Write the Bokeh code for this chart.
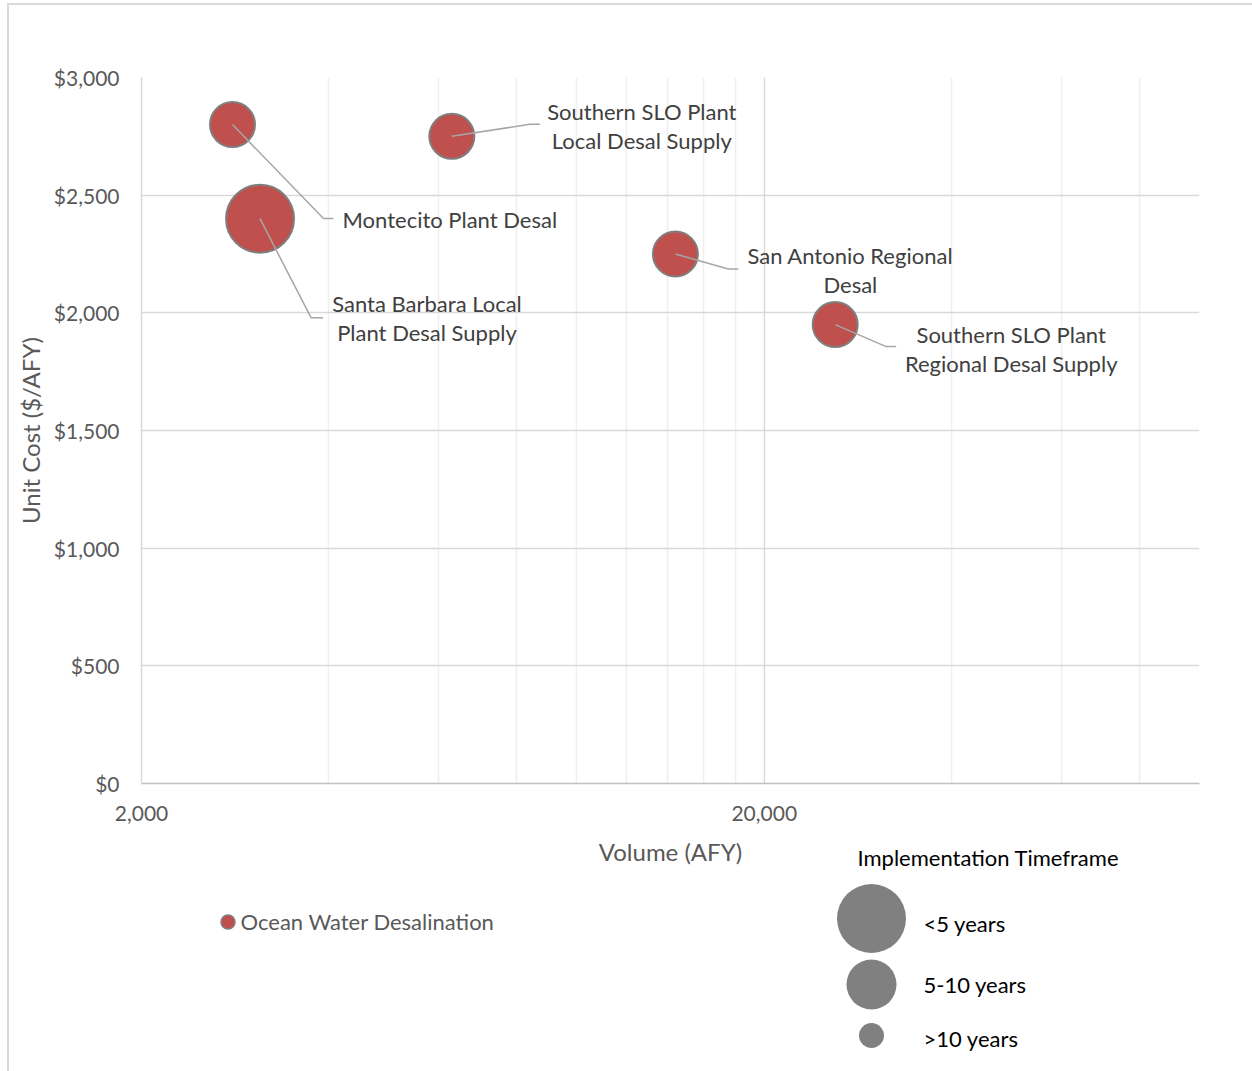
import math

from bokeh.core.properties import value
from bokeh.embed import file_html
from bokeh.layouts import column
from bokeh.models import ColumnDataSource, FixedTicker, NumeralTickFormatter, Range1d
from bokeh.plotting import figure
from bokeh.resources import INLINE

# ---- data -------------------------------------------------------------
projects = [
    "Montecito Plant Desal",
    "Santa Barbara Local\nPlant Desal Supply",
    "Southern SLO Plant\nLocal Desal Supply",
    "San Antonio Regional\nDesal",
    "Southern SLO Plant\nRegional Desal Supply",
]
volume_afy = [2800, 3100, 6300, 14400, 26000]
unit_cost = [2800, 2400, 2750, 2250, 1950]
timeframe = ["5-10 years", "<5 years", "5-10 years", "5-10 years", "5-10 years"]
series_name = "Ocean Water Desalination"
size_legend_title = "Implementation Timeframe"
timeframe_levels = ["<5 years", "5-10 years", ">10 years"]

x_ticks = [2000, 20000]
x_minor_grid = [4000, 6000, 8000, 10000, 12000, 14000, 16000, 18000,
                40000, 60000, 80000, 100000]
y_ticks = [0, 500, 1000, 1500, 2000, 2500, 3000]

# ---- styling ----------------------------------------------------------
FONT = "Lato"
RED = "#C0504D"
GREY_EDGE = "#7f7f7f"
X0, X1 = 2000, 100000
Y0, Y1 = 0, 3000
FRAME_W, FRAME_H = 1058, 706
PX_PER_DECADE = FRAME_W / math.log10(X1 / X0)
PX_PER_DOLLAR = FRAME_H / (Y1 - Y0)
BORDER_L, BORDER_R, BORDER_T = 132, 53, 72

bubble_px = {"<5 years": 68, "5-10 years": 45, ">10 years": 23}

# leader-line and label offsets from each bubble centre (px, +right / +up)
label_layout = [
    dict(elbow=(91, -94), end=(101, -94), text=(110, -95), align="left"),
    dict(elbow=(51, -99), end=(63, -99), text=(167, -99), align="center"),
    dict(elbow=(78, 12), end=(88, 12), text=(190, 10), align="center"),
    dict(elbow=(53, -15), end=(63, -15), text=(175, -16), align="center"),
    dict(elbow=(51, -22), end=(61, -22), text=(176, -24), align="center"),
]


def shift(x, y, dx, dy):
    """Move a data point by a pixel offset on the log-x / linear-y frame."""
    return x * 10 ** (dx / PX_PER_DECADE), y + dy / PX_PER_DOLLAR


# ---- main chart -------------------------------------------------------
p = figure(
    width=1243, height=875,
    x_axis_type="log",
    x_range=Range1d(X0, X1), y_range=Range1d(Y0, Y1),
    toolbar_location=None, output_backend="svg",
    min_border_left=BORDER_L, min_border_right=BORDER_R,
    min_border_top=BORDER_T, min_border_bottom=97,
)
p.outline_line_color = None
p.background_fill_color = "white"
p.border_fill_color = "white"

p.yaxis.ticker = FixedTicker(ticks=y_ticks)
p.yaxis.formatter = NumeralTickFormatter(format="$0,0")
p.xaxis.ticker = FixedTicker(ticks=x_ticks)
p.xaxis.formatter = NumeralTickFormatter(format="0,0")

for ax in (p.xaxis[0], p.yaxis[0]):
    ax.major_tick_line_color = None
    ax.minor_tick_line_color = None
    ax.major_tick_out = 0
    ax.major_label_text_font = FONT
    ax.major_label_text_font_size = "21px"
    ax.major_label_text_color = "#595959"
    ax.axis_label_text_font = FONT
    ax.axis_label_text_font_size = "24px"
    ax.axis_label_text_font_style = "normal"
    ax.axis_label_text_color = "#595959"
    ax.axis_line_width = 1.5

p.yaxis.axis_label = "Unit Cost ($/AFY)"
p.yaxis.axis_line_color = "#d9d9d9"
p.yaxis.major_label_standoff = 22
p.yaxis.axis_label_standoff = 6

p.xaxis.axis_label = "Volume (AFY)"
p.xaxis.axis_line_color = "#bfbfbf"
p.xaxis.major_label_standoff = 22
p.xaxis.axis_label_standoff = 13

p.ygrid.ticker = FixedTicker(ticks=y_ticks)
p.ygrid.grid_line_color = "#d9d9d9"
p.ygrid.grid_line_width = 1.5
p.xgrid.ticker = FixedTicker(ticks=x_ticks, minor_ticks=x_minor_grid)
p.xgrid.grid_line_color = "#d9d9d9"
p.xgrid.grid_line_width = 1.5
p.xgrid.minor_grid_line_color = "#efefef"
p.xgrid.minor_grid_line_width = 1.5

# leader lines and data labels
lead_xs, lead_ys, txt_x, txt_y, txt_align = [], [], [], [], []
for vx, vy, lay in zip(volume_afy, unit_cost, label_layout):
    ex, ey = shift(vx, vy, *lay["elbow"])
    fx, fy = shift(vx, vy, *lay["end"])
    tx, ty = shift(vx, vy, *lay["text"])
    lead_xs.append([vx, ex, fx])
    lead_ys.append([vy, ey, fy])
    txt_x.append(tx)
    txt_y.append(ty)
    txt_align.append(lay["align"])

src = ColumnDataSource(dict(
    x=volume_afy, y=unit_cost, name=projects, timeframe=timeframe,
    size=[bubble_px[t] for t in timeframe],
    tx=txt_x, ty=txt_y, align=txt_align,
))

p.scatter("x", "y", source=src, size="size", marker="circle",
          fill_color=RED, line_color=GREY_EDGE, line_width=2)
p.multi_line(lead_xs, lead_ys, line_color="#a6a6a6", line_width=1.5)
p.text("tx", "ty", text="name", source=src, text_align="align",
       text_baseline="middle", text_font=value(FONT), text_font_size="22px",
       text_line_height=1.07, text_color="#404040")

# ---- legend strip (coordinates are page pixels) -----------------------
# it slides up under the x-axis title so the size-legend heading can sit
# on the same line; its frame lines up with the chart frame above.
STRIP_TOP = 835
lg = figure(
    width=1243, height=1071 - STRIP_TOP,
    x_range=Range1d(141, 1199), y_range=Range1d(1071, STRIP_TOP),
    toolbar_location=None, output_backend="svg",
    min_border_left=BORDER_L, min_border_right=BORDER_R,
    min_border_top=0, min_border_bottom=0,
    margin=(STRIP_TOP - 880, 0, 0, 0),
)
lg.axis.visible = False
lg.grid.visible = False
lg.outline_line_color = None
lg.background_fill_alpha = 0
lg.border_fill_alpha = 0

lg.scatter([227.5], [921.5], size=14, marker="circle",
           fill_color=RED, line_color=GREY_EDGE, line_width=1.5)
lg.text([240], [921], text=[series_name], text_baseline="middle",
        text_font=value(FONT), text_font_size="22px", text_color="#595959")

lg.text([857], [857], text=[size_legend_title], text_baseline="middle",
        text_font=value(FONT), text_font_size="22px", text_color="#000000")
lg.scatter([871, 871, 871], [918, 984, 1035], size=[69, 50, 25],
           marker="circle", fill_color="#808080", line_color=None)
lg.text([923, 923, 923], [923, 984, 1038], text=timeframe_levels,
        text_baseline="middle", text_font=value(FONT),
        text_font_size="22px", text_color="#000000")

page = column(p, lg, margin=(3, 0, 0, 7),
              styles={"border-left": "2px solid #d9d9d9",
                      "border-top": "2px solid #d9d9d9"})

open("out.html", "w").write(file_html(page, INLINE))
